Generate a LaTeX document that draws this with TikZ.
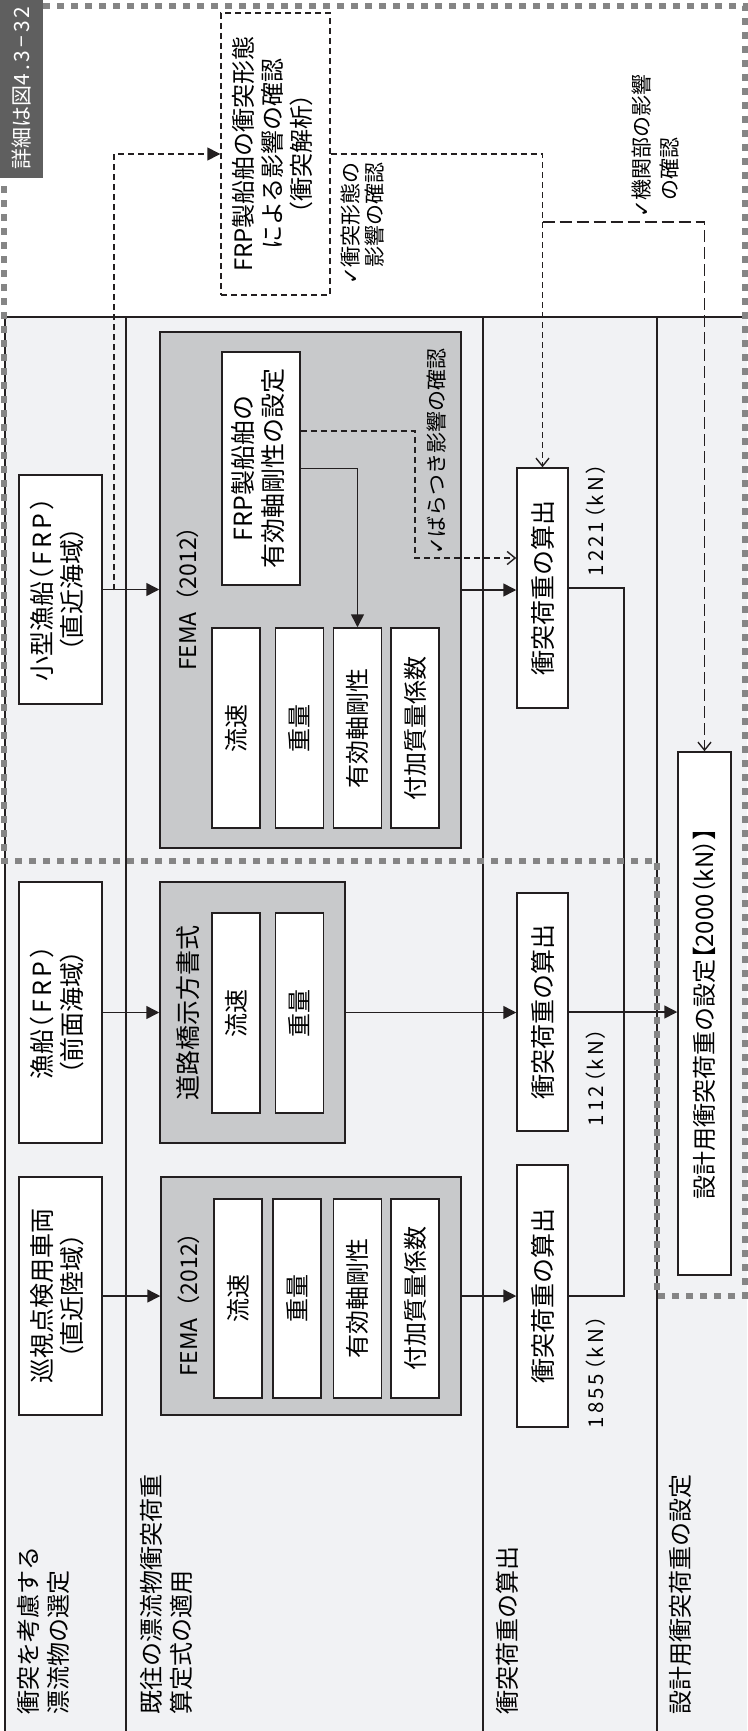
\documentclass[tikz,border=0pt]{standalone}
\usepackage{fontspec}
\setmainfont{Noto Sans CJK JP}
\newfontfamily\jpp[RawFeature=+palt]{Noto Sans CJK JP}
\newfontfamily\jpls[RawFeature=+palt,LetterSpace=14]{Noto Sans CJK JP}
\newfontfamily\symf{DejaVu Sans}
\usepackage{graphicx}
\usetikzlibrary{arrows.meta,calc}
\definecolor{lanebg}{HTML}{F1F2F4}
\definecolor{boxgray}{HTML}{C8C9CB}
\definecolor{lblgray}{HTML}{5F5F5F}
\definecolor{framegray}{HTML}{858585}
\definecolor{ink}{HTML}{231F20}
\newcommand\vtc[1]{\rotatebox{90}{\begin{tabular}{@{}c@{}}#1\end{tabular}}}
\newcommand\vtl[1]{\rotatebox{90}{\begin{tabular}{@{}l@{}}#1\end{tabular}}}
\newcommand\vtchk[1]{\rotatebox{90}{\begin{tabular}{@{}l@{}l@{}}#1\end{tabular}}}
\newcommand\ck{{\symf ✓}}
\newcommand\pp[1]{{\jpp #1}}
\newcommand\pls[1]{{\jpls #1}}
\tikzset{
  ln/.style={draw=ink, line width=1.5pt},
  wbox/.style={draw=ink, line width=1.5pt, fill=white, inner sep=0pt, font=\fontsize{25}{30}\selectfont},
  gbox/.style={draw=ink, line width=1.5pt, fill=boxgray, inner sep=0pt},
  ibox/.style={draw=ink, line width=1.5pt, fill=white, inner sep=0pt, minimum width=48pt, font=\fontsize{24}{28}\selectfont},
  txt/.style={inner sep=0pt, font=\fontsize{25}{30}\selectfont},
  ltxt/.style={inner sep=0pt, font=\fontsize{24}{30}\selectfont, anchor=south},
  chk/.style={inner sep=0pt, font=\fontsize{21}{23}\selectfont, anchor=south},
  kn/.style={inner sep=0pt, font=\fontsize{20.5}{24}\selectfont},
  con/.style={draw=ink, line width=1.5pt},
  sdash/.style={draw=ink, line width=1.4pt, dash pattern=on 6pt off 4pt},
  ldash/.style={draw=ink, line width=1.4pt, dash pattern=on 12pt off 5pt},
  arrF/.style={-{Triangle[length=13pt,width=13pt]}},
  arrO/.style={-{Straight Barb[length=8pt,width=13pt]}},
  gframe/.style={draw=framegray, line width=6pt, dash pattern=on 7pt off 7pt},
}
\begin{document}
\begin{tikzpicture}[x=1pt,y=-1pt]
\useasboundingbox (0,0) rectangle (747,1731);
\fill[white] (0,0) rectangle (747,1731);
% lanes
\fill[lanebg] (5,317) rectangle (747,1731);
\draw[ln] (5,317) -- (747,317);
\draw[ln] (5,317) -- (5,1731);
\draw[ln] (126,317) -- (126,1731);
\draw[ln] (483,317) -- (483,1731);
\draw[ln] (657,317) -- (657,1731);

% lane labels
\node[ltxt] (lane1) at (46,1715) {\vtl{衝突を考慮する\\漂流物の選定}};
\node[ltxt] (lane2) at (169,1715) {\vtl{既往の漂流物衝突荷重\\算定式の適用}};
\node[ltxt] (lane3) at (510,1715) {\vtl{衝突荷重の算出}};
\node[ltxt] (lane4) at (683,1715) {\vtl{設計用衝突荷重の設定}};

% label box
\node[fill=lblgray, minimum width=43pt, minimum height=180pt, inner sep=0pt, text=white, font=\fontsize{21}{24}\selectfont] (lbl) at (21.5,88) {\rotatebox{90}{詳細は図\pls{4.3−32}}};

% top dashed box
\node[draw=ink, line width=1.4pt, dash pattern=on 6pt off 4pt, fill=white, minimum width=109pt, minimum height=282pt, inner sep=0pt, font=\fontsize{24}{28}\selectfont] (frp) at (275.5,154) {\vtc{FRP製船舶の衝突形態\\による影響の確認\\\pp{（衝突解析）}}};

% lane 1 boxes
\node[wbox, minimum width=83pt, minimum height=229pt] (small) at (60.5,589.5) {\vtc{小型漁船\pls{（FRP）}\\\pp{（直近海域）}}};
\node[wbox, minimum width=83pt, minimum height=261pt] (fish) at (60.5,1012.5) {\vtc{漁船\pls{（FRP）}\\\pp{（前面海域）}}};
\node[wbox, minimum width=83pt, minimum height=238pt] (patrol) at (60.5,1296) {\vtc{巡視点検用車両\\\pp{（直近陸域）}}};

% lane 2 : FEMA top
\node[gbox, minimum width=301pt, minimum height=516pt] (fema1) at (310.5,590) {};
\node[txt, font=\fontsize{23}{28}\selectfont] (fema1l) at (188,593) {\rotatebox{90}{FEMA（2012）}};
\node[wbox, minimum width=78pt, minimum height=233pt] (frpin) at (261,468.5) {\vtc{FRP製船舶の\\有効軸剛性の設定}};
\node[ibox, minimum height=200pt] (v1) at (236,728) {\rotatebox{90}{流速}};
\node[ibox, minimum height=200pt] (w1) at (299.5,728) {\rotatebox{90}{重量}};
\node[ibox, minimum height=200pt] (st1) at (357.5,728) {\rotatebox{90}{有効軸剛性}};
\node[ibox, minimum height=200pt] (am1) at (415,728) {\rotatebox{90}{付加質量係数}};

% lane 2 : road
\node[gbox, minimum width=185pt, minimum height=261pt] (road) at (252.5,1012.5) {};
\node[txt] (roadl) at (188,1013) {\rotatebox{90}{道路橋示方書式}};
\node[ibox, minimum height=200pt] (v2) at (236,1013) {\rotatebox{90}{流速}};
\node[ibox, minimum height=200pt] (w2) at (299.5,1013) {\rotatebox{90}{重量}};

% lane 2 : FEMA bottom
\node[gbox, minimum width=300pt, minimum height=238pt] (fema3) at (311,1296) {};
\node[txt, font=\fontsize{23}{28}\selectfont] (fema3l) at (189,1299) {\rotatebox{90}{FEMA（2012）}};
\node[ibox, minimum height=199pt] (v3) at (238,1298.5) {\rotatebox{90}{流速}};
\node[ibox, minimum height=199pt] (w3) at (297,1298.5) {\rotatebox{90}{重量}};
\node[ibox, minimum height=199pt] (st3) at (357.5,1298.5) {\rotatebox{90}{有効軸剛性}};
\node[ibox, minimum height=199pt] (am3) at (415,1298.5) {\rotatebox{90}{付加質量係数}};

% lane 3
\node[wbox, minimum width=51pt, minimum height=240pt] (calc1) at (542.5,588) {\rotatebox{90}{衝突荷重の算出}};
\node[wbox, minimum width=51pt, minimum height=238pt] (calc2) at (542.5,1012) {\rotatebox{90}{衝突荷重の算出}};
\node[wbox, minimum width=51pt, minimum height=262pt] (calc3) at (542.5,1296) {\rotatebox{90}{衝突荷重の算出}};
\node[kn] (kn1) at (596,520) {\rotatebox{90}{\pls{1221（kN）}}};
\node[kn] (kn2) at (596,1077) {\rotatebox{90}{\pls{112（kN）}}};
\node[kn] (kn3) at (596,1372) {\rotatebox{90}{\pls{1855（kN）}}};

% lane 4
\node[wbox, minimum width=53pt, minimum height=523pt, font=\fontsize{24}{28}\selectfont] (design) at (704.5,1013.5) {\rotatebox{90}{設計用衝突荷重の設定\pp{【2000（kN）】}}};

% check labels
\node[chk] (chk1) at (365,285) {\vtchk{\ck&衝突形態の\\&影響の確認}};
\node[chk, font=\fontsize{21}{27.5}\selectfont] (chk2) at (658,218) {\vtchk{\ck&機関部の影響\\&の確認}};
\node[chk] (chk3) at (439,555) {\vtchk{\ck&ばらつき影響の確認}};

% coordinates
\coordinate (br) at (114,590);
\coordinate (yA) at (0,222);
\coordinate (d1) at (415,431);
\coordinate (d2) at (415,558);
\coordinate (mrg) at (624,1012);

% solid connectors
\draw[con,arrF] (small.east) -- (small.east -| fema1.west);
\draw[con,arrF] (fema1.east) -- (fema1.east -| calc1.west);
\draw[con,arrF] (fish.east) -- (fish.east -| road.west);
\draw[con,arrF] (road.east) -- (road.east -| calc2.west);
\draw[con,arrF] (patrol.east) -- (patrol.east -| fema3.west);
\draw[con,arrF] (fema3.east) -- (fema3.east -| calc3.west);
\draw[con,arrF] (frpin.east) -| (st1.north);
\draw[con] (calc1.east) -| (mrg);
\draw[con] (calc3.east) -| (mrg);
\draw[con,arrF] (calc2.east) -- (calc2.east -| design.west);

% dashed connectors
\draw[sdash,arrF] (br) |- (frp.west);
\draw[sdash,arrO] (frp.east) -| (calc1.north);
\draw[ldash,arrO] (calc1.north |- yA) -| (design.north);
\draw[sdash,arrO] (frpin.east |- d1) -- (d1) -- (d2) -- (d2 -| calc1.west);

% gray detail frame
\draw[gframe] (43,6) -- (745,6) -- (745,1296) -- (657,1296) -- (657,861) -- (4,861) -- (4,180);
\end{tikzpicture}
\end{document}
